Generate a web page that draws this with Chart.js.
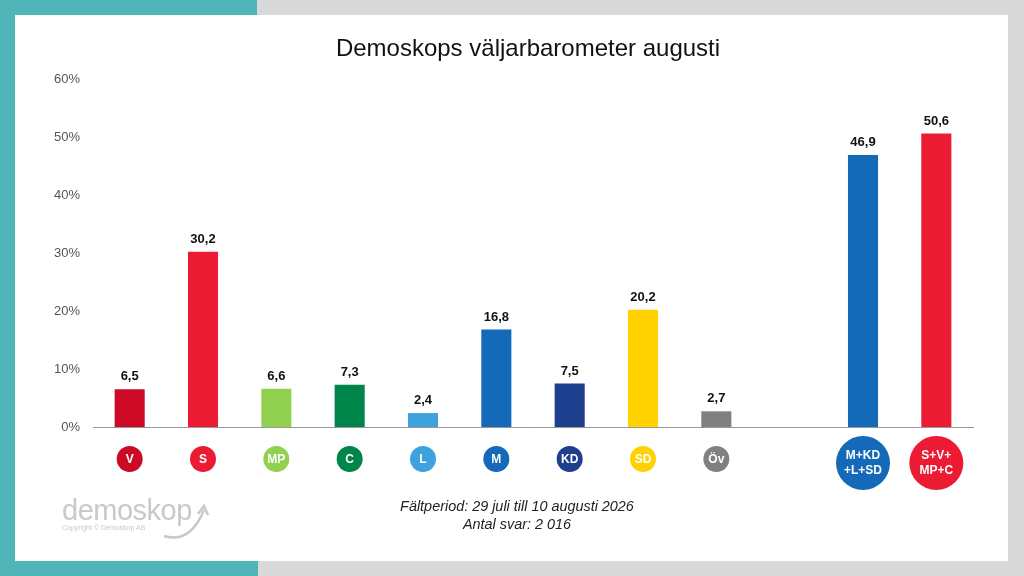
<!DOCTYPE html>
<html>
<head>
<meta charset="utf-8">
<script src="https://cdn.jsdelivr.net/npm/chart.js@4"></script>
<style>
	html, body { margin: 0; padding: 0; }
	body { width: 1024px; height: 576px; position: relative; overflow: hidden; background: #d9d9d9; font-family: "Liberation Sans", Arial, sans-serif; }
	.teal-top { position: absolute; left: 0; top: 0; width: 257px; height: 15px; background: #50b5b9; }
	.teal-left { position: absolute; left: 0; top: 0; width: 15px; height: 576px; background: #50b5b9; }
	.teal-bottom { position: absolute; left: 0; top: 561px; width: 258px; height: 15px; background: #50b5b9; }
	.panel { position: absolute; left: 15px; top: 15px; width: 993px; height: 546px; background: #fff; }
	#chart { position: absolute; left: 0; top: 0; }
	.title { position: absolute; left: 0; width: 1056px; top: 34px; text-align: center; font-size: 24px; color: #111; }
	.footer { position: absolute; left: 0; width: 1034px; top: 497px; text-align: center; font-family: "Liberation Sans Narrow", "Liberation Sans", sans-serif; font-style: italic; font-size: 15px; line-height: 18px; color: #222; transform: scaleX(0.96); transform-origin: 517px 0; }
	.logo { position: absolute; left: 62px; top: 494px; color: #c9c9c9; }
	.logo .name { font-size: 29px; letter-spacing: -0.5px; }
	.logo .copy { font-size: 7px; margin-top: -3px; white-space: nowrap; }
	.logo svg { position: absolute; left: 98px; top: 8px; }
</style>
</head>
<body>
<div class="teal-left"></div>
<div class="teal-top"></div>
<div class="teal-bottom"></div>
<div class="panel"></div>
<canvas id="chart" width="1024" height="576"></canvas>
<div class="title">Demoskops väljarbarometer augusti</div>
<div class="footer">Fältperiod: 29 juli till 10 augusti 2026<br>Antal svar: 2 016</div>
<div class="logo">
	<div class="name">demoskop</div>
	<div class="copy">Copyright © Demoskop AB</div>
	<svg width="50" height="40" viewBox="0 0 50 40">
		<path d="M4 34 Q30 42 44 8" fill="none" stroke="#c9c9c9" stroke-width="2.5"/>
		<path d="M38 12 L44 4 L48 13" fill="none" stroke="#c9c9c9" stroke-width="2.5"/>
	</svg>
</div>
<script>
// data

const parties = ["V", "S", "MP", "C", "L", "M", "KD", "SD", "Öv", "", "M+KD\n+L+SD", "S+V+\nMP+C"]
const shares = [6.5, 30.2, 6.6, 7.3, 2.4, 16.8, 7.5, 20.2, 2.7, null, 46.9, 50.6]
const partyColors = ["#cc0a26", "#ec1b34", "#92d050", "#00854a", "#3da2de", "#1469b8", "#1e3e8e", "#ffd200", "#808080", "#ffffff", "#1469b8", "#ec1b34"]
const yTicks = [0, 10, 20, 30, 40, 50, 60]

const formatValue = v => v.toFixed(1).replace(".", ",")

// plugins

const valueLabels = {
	id: "valueLabels",
	afterDatasetsDraw(chart) {
		const ctx = chart.ctx
		const meta = chart.getDatasetMeta(0)
		ctx.save()
		ctx.font = "bold 13px 'Liberation Sans', Arial, sans-serif"
		ctx.fillStyle = "#111"
		ctx.textAlign = "center"
		ctx.textBaseline = "bottom"
		meta.data.forEach((bar, i) => {
			if (shares[i] == null) return
			ctx.fillText(formatValue(shares[i]), bar.x, bar.y - 6)
		})
		ctx.restore()
	},
}

const partyBadges = {
	id: "partyBadges",
	afterDraw(chart) {
		const ctx = chart.ctx
		const xScale = chart.scales.x
		ctx.save()
		ctx.textAlign = "center"
		ctx.textBaseline = "middle"
		parties.forEach((name, i) => {
			if (!name) return
			const x = xScale.getPixelForValue(i)
			const lines = name.split("\n")
			const big = lines.length > 1
			const r = big ? 27 : 13
			const y = big ? 463 : 459
			ctx.beginPath()
			ctx.arc(x, y, r, 0, Math.PI * 2)
			ctx.fillStyle = partyColors[i]
			ctx.fill()
			ctx.fillStyle = "#fff"
			ctx.font = "bold 12px 'Liberation Sans', Arial, sans-serif"
			if (big) {
				ctx.fillText(lines[0], x, y - 7)
				ctx.fillText(lines[1], x, y + 8)
			} else {
				ctx.fillText(name, x, y + 1)
			}
		})
		ctx.restore()
	},
}

// chart

new Chart(document.querySelector("#chart"), {
	type: "bar",
	data: {
		labels: parties,
		datasets: [
			{
				data: shares,
				backgroundColor: partyColors,
				barPercentage: 0.41,
				categoryPercentage: 1,
			},
		],
	},
	options: {
		responsive: false,
		animation: false,
		layout: {
			padding: { left: 40, right: 51, top: 79, bottom: 149 },
		},
		plugins: {
			legend: { display: false },
			tooltip: { enabled: false },
		},
		scales: {
			x: {
				grid: { display: false, drawTicks: false },
				border: { display: true, color: "#999", width: 1 },
				ticks: { display: false },
			},
			y: {
				min: 0,
				max: 60,
				afterFit: scale => { scale.width = 53 },
				afterBuildTicks: scale => { scale.ticks = yTicks.map(v => ({ value: v })) },
				grid: { display: false, drawTicks: false },
				border: { display: false },
				ticks: {
					padding: 13,
					color: "#555",
					font: { size: 13, family: "'Liberation Sans', Arial, sans-serif" },
					callback: v => v + "%",
				},
			},
		},
	},
	plugins: [valueLabels, partyBadges],
})
</script>
</body>
</html>
